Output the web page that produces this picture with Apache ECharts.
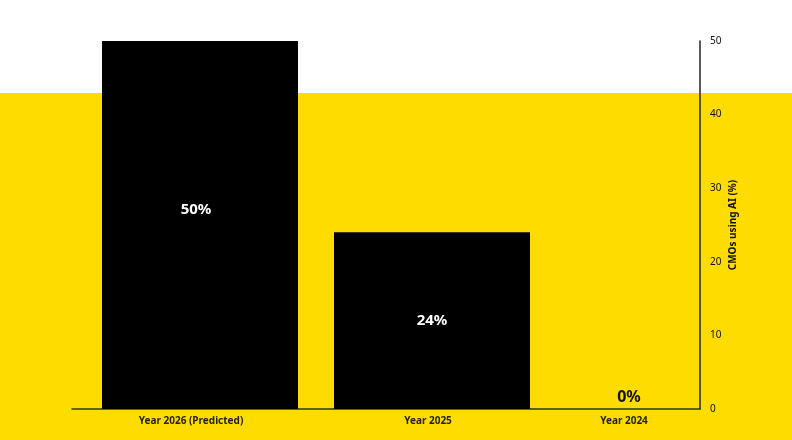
<!DOCTYPE html>
<html><head><meta charset="utf-8">
<script src="https://cdn.jsdelivr.net/npm/echarts@6/dist/echarts.min.js"></script>
<style>html,body{margin:0;padding:0;background:#fff}#c{width:792px;height:440px}</style>
</head><body><div id="c"></div>
<script>
const categories = ['Year 2026 (Predicted)', 'Year 2025', 'Year 2024'];
const values = [50, 24, 0];
const yTicks = [0, 10, 20, 30, 40, 50];

const chart = echarts.init(document.getElementById('c'), null, {renderer: 'canvas'});
const FONT = 'Noto Sans';
const labelShift = [-9, -4, -40];
const valueLabelOffset = [[-4, -15], [0, 0], [-35, 0]];
chart.setOption({
  animation: false,
  backgroundColor: '#ffffff',
  graphic: [{type: 'rect', z: -10, left: 0, top: 93, shape: {width: 792, height: 347}, style: {fill: '#FFDC00'}, silent: true}],
  grid: [
    {left: 84, right: 12, top: 41, bottom: 31},
    {left: 72, right: 92, top: 41, bottom: 31}
  ],
  xAxis: [{
    type: 'category', gridIndex: 0,
    data: categories.map((c, i) => ({value: c, textStyle: {padding: labelShift[i] < 0 ? [0, -2 * labelShift[i], 0, 0] : [0, 0, 0, 2 * labelShift[i]]}})),
    axisLine: {show: false}, axisTick: {show: false},
    axisLabel: {color: '#222', fontFamily: FONT, fontSize: 10, fontWeight: 'bold', margin: 7}
  }, {
    type: 'category', gridIndex: 1, data: categories,
    axisLine: {show: true, lineStyle: {color: '#333', width: 1.5}},
    axisTick: {show: false}, axisLabel: {show: false}
  }],
  yAxis: [{
    type: 'value', gridIndex: 0, position: 'right', offset: -80,
    min: yTicks[0], max: yTicks[yTicks.length - 1], interval: 10,
    name: 'CMOs using AI (%)', nameLocation: 'middle', nameGap: 28, nameRotate: 90, nameMoveOverlap: false,
    nameTextStyle: {color: '#111', fontFamily: FONT, fontSize: 10, fontWeight: 'bold'},
    axisLine: {show: true, lineStyle: {color: '#222', width: 1.5}},
    axisTick: {show: false}, splitLine: {show: false},
    axisLabel: {color: '#111', fontFamily: FONT, fontSize: 10, margin: 10}
  }, {
    type: 'value', gridIndex: 1, show: false
  }],
  series: [{
    type: 'bar', xAxisIndex: 0, yAxisIndex: 0, barWidth: 196,
    itemStyle: {color: '#000000'},
    data: values.map((v, i) => v === 0
      ? {value: v, label: {position: 'top', color: '#111', fontSize: 16, offset: valueLabelOffset[i]}}
      : {value: v, label: {offset: valueLabelOffset[i]}}),
    label: {show: true, position: 'inside', formatter: '{c}%', color: '#ffffff', fontFamily: FONT, fontSize: 15, fontWeight: 'bold', distance: 4}
  }]
});
</script></body></html>
